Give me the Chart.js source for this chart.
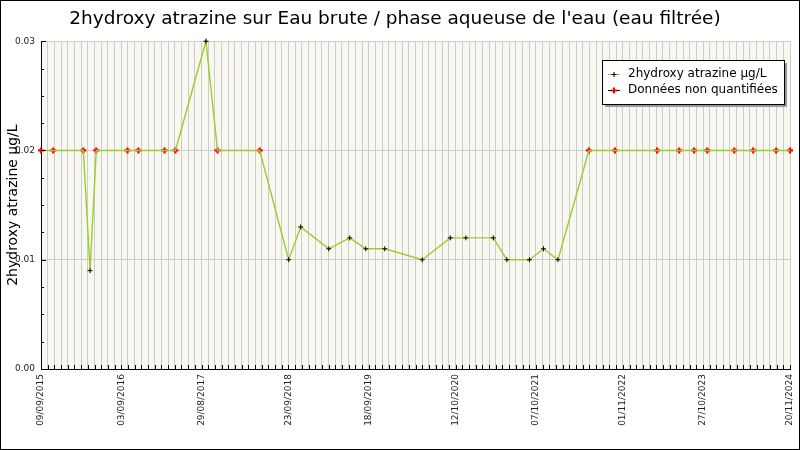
<!DOCTYPE html>
<html lang="fr">
<head>
<meta charset="utf-8">
<title>2hydroxy atrazine</title>
<script src="https://cdn.jsdelivr.net/npm/chart.js@4/dist/chart.umd.min.js"></script>
<style>
  html, body { margin: 0; padding: 0; background: #fff; }
  #cadre { width: 800px; height: 450px; }
</style>
</head>
<body>
<div id="cadre"><canvas id="graphique" width="800" height="450"></canvas></div>
<script>
// Dates des prélèvements
const dates = [
  "2015-09-09", "2015-11-03", "2016-03-17", "2016-04-16", "2016-05-14",
  "2016-10-01", "2016-11-19", "2017-03-16", "2017-05-04", "2017-09-18",
  "2017-11-09", "2018-05-17", "2018-09-24", "2018-11-17", "2019-03-23",
  "2019-06-25", "2019-09-05", "2019-11-29", "2020-05-15", "2020-09-18",
  "2020-11-27", "2021-03-30", "2021-05-30", "2021-09-08", "2021-11-10",
  "2022-01-14", "2022-06-02", "2022-09-27", "2023-04-04", "2023-07-12",
  "2023-09-17", "2023-11-15", "2024-03-15", "2024-06-08", "2024-09-19",
  "2024-11-20"
];
const valeurs = [
  0.02, 0.02, 0.02, 0.009, 0.02,
  0.02, 0.02, 0.02, 0.02, 0.03,
  0.02, 0.02, 0.01, 0.013, 0.011,
  0.012, 0.011, 0.011, 0.01, 0.012,
  0.012, 0.012, 0.01, 0.01, 0.011,
  0.01, 0.02, 0.02, 0.02, 0.02,
  0.02, 0.02, 0.02, 0.02, 0.02,
  0.02
];
// 1 = donnée non quantifiée (croix rouge)
const nonQuantifie = [
  1, 1, 1, 0, 1,
  1, 1, 1, 1, 0,
  1, 1, 0, 0, 0,
  0, 0, 0, 0, 0,
  0, 0, 0, 0, 0,
  0, 1, 1, 1, 1,
  1, 1, 1, 1, 1,
  1
];
const etiquettesX = [
  "09/09/2015", "03/09/2016", "29/08/2017", "23/09/2018", "18/09/2019",
  "12/10/2020", "07/10/2021", "01/11/2022", "27/10/2023", "20/11/2024"
];
const etiquettesY = ["0.00", "0.01", "0.02", "0.03"];

const nomSerie = "2hydroxy atrazine µg/L";
const nomNonQuantifie = "Données non quantifiées";

const JOUR = 86400000;
const origine = Date.UTC(2015, 8, 9);

function jourIso(s) {
  const [a, m, j] = s.split("-").map(Number);
  return Math.round((Date.UTC(a, m - 1, j) - origine) / JOUR);
}
function jourFr(s) {
  const [j, m, a] = s.split("/").map(Number);
  return Math.round((Date.UTC(a, m - 1, j) - origine) / JOUR);
}

const points = dates.map((d, i) => ({ x: jourIso(d), y: valeurs[i] }));
const pointsNQ = points.filter((p, i) => nonQuantifie[i]);
const joursEtiquettes = etiquettesX.map(jourFr);

Chart.defaults.font.family = "'DejaVu Sans', Verdana, sans-serif";
Chart.defaults.color = "#222";

const fondEtCadre = {
  id: "fondEtCadre",
  beforeDraw(chart) {
    const { ctx, chartArea: a } = chart;
    ctx.save();
    ctx.fillStyle = "#fff";
    ctx.fillRect(0, 0, chart.width, chart.height);
    ctx.fillStyle = "#f8f8f0";
    ctx.fillRect(a.left, a.top, a.right - a.left, a.bottom - a.top);
    ctx.restore();
  },
  afterDraw(chart) {
    const { ctx, chartArea: a } = chart;
    const sx = chart.scales.x;
    const sy = chart.scales.y;
    ctx.save();
    // petites graduations vers l'intérieur
    ctx.strokeStyle = "#000";
    ctx.lineWidth = 1;
    ctx.beginPath();
    sx.ticks.forEach((t) => {
      const px = Math.round(sx.getPixelForValue(t.value)) + 0.5;
      ctx.moveTo(px, a.bottom);
      ctx.lineTo(px, a.bottom - 4);
    });
    sy.ticks.forEach((t) => {
      const py = Math.round(sy.getPixelForValue(t.value)) + 0.5;
      const majeur = t.label !== "";
      ctx.moveTo(a.left, py);
      ctx.lineTo(a.left + (majeur ? 5 : 3), py);
    });
    ctx.stroke();

    // cadre de l'image
    ctx.strokeStyle = "#000";
    ctx.strokeRect(0.5, 0.5, chart.width - 1, chart.height - 1);
    ctx.restore();
  },
};

const legendeBoite = {
  id: "legendeBoite",
  afterDraw(chart) {
    const { ctx } = chart;
    const x = 602, y = 60, w = 182, h = 44;
    ctx.save();
    ctx.fillStyle = "#999";
    ctx.fillRect(x + 3, y + 3, w, h);
    ctx.fillStyle = "#fff";
    ctx.fillRect(x, y, w, h);
    ctx.strokeStyle = "#000";
    ctx.lineWidth = 1;
    ctx.strokeRect(x + 0.5, y + 0.5, w, h);

    ctx.font = "12px 'DejaVu Sans', sans-serif";
    ctx.fillStyle = "#000";
    ctx.textBaseline = "middle";

    // série mesurée
    ctx.strokeStyle = "#9acd32";
    ctx.beginPath();
    ctx.moveTo(608, 74.5);
    ctx.lineTo(620, 74.5);
    ctx.stroke();
    ctx.strokeStyle = "#000";
    ctx.beginPath();
    ctx.moveTo(611.5, 74.5); ctx.lineTo(616.5, 74.5);
    ctx.moveTo(614, 72); ctx.lineTo(614, 77);
    ctx.stroke();
    ctx.fillText(nomSerie, 628, 74);

    // non quantifiées
    ctx.strokeStyle = "#000";
    ctx.beginPath();
    ctx.moveTo(608, 90.5);
    ctx.lineTo(620, 90.5);
    ctx.stroke();
    ctx.strokeStyle = "#f00";
    ctx.lineWidth = 2;
    ctx.beginPath();
    ctx.moveTo(611, 90.5); ctx.lineTo(617, 90.5);
    ctx.moveTo(614, 87.5); ctx.lineTo(614, 93.5);
    ctx.stroke();
    ctx.fillText(nomNonQuantifie, 628, 90);
    ctx.restore();
  },
};

new Chart(document.getElementById("graphique"), {
  type: "line",
  data: {
    datasets: [
      {
        label: nomSerie,
        data: points,
        borderColor: "#9acd32",
        borderWidth: 1.4,
        tension: 0,
        pointStyle: "cross",
        pointRadius: points.map((p, i) => (nonQuantifie[i] ? 0 : 2.5)),
        pointBorderColor: "#000",
        pointBorderWidth: 1,
        clip: false,
      },
      {
        label: nomNonQuantifie,
        data: pointsNQ,
        showLine: false,
        pointStyle: "cross",
        pointRadius: 3,
        pointBorderColor: "#f00",
        pointBackgroundColor: "#f00",
        pointBorderWidth: 2.2,
        clip: false,
      },
    ],
  },
  options: {
    responsive: false,
    animation: false,
    layout: { padding: { left: 0, right: 10, top: 0, bottom: 0 } },
    plugins: {
      legend: { display: false },
      tooltip: { enabled: false },
      title: {
        display: true,
        text: "2hydroxy atrazine sur Eau brute / phase aqueuse de l'eau (eau filtrée)",
        color: "#000",
        font: { size: 18.5, weight: "normal" },
        padding: { top: 8, bottom: 11 },
      },
    },
    scales: {
      x: {
        type: "linear",
        min: 0,
        max: jourFr(etiquettesX[etiquettesX.length - 1]),
        afterFit(scale) {
          scale.height = 81;
          scale.paddingLeft = 0;
          scale.paddingRight = 0;
        },
        grid: { color: "#cccccc", lineWidth: 1, drawTicks: false },
        border: { display: true, color: "#000", width: 1 },
        ticks: {
          stepSize: 30,
          autoSkip: false,
          minRotation: 90,
          maxRotation: 90,
          padding: 5,
          font: { size: 9 },
          callback(v) {
            const k = joursEtiquettes.findIndex((j) => Math.abs(j - v) < 1);
            return k >= 0 ? etiquettesX[k] : "";
          },
        },
      },
      y: {
        min: 0,
        max: 0.03,
        afterFit(scale) { scale.width = 41; },
        grid: {
          drawTicks: false,
          color(c) {
            const v = c.tick ? c.tick.value : 0;
            return Math.abs(v * 100 - Math.round(v * 100)) < 1e-6 ? "#cccccc" : "rgba(0,0,0,0)";
          },
        },
        border: { display: true, color: "#000", width: 1 },
        title: {
          display: true,
          text: nomSerie,
          color: "#000",
          font: { size: 14 },
          padding: { top: 5, bottom: 0 },
        },
        ticks: {
          stepSize: 0.0025,
          padding: 6,
          font: { size: 9 },
          callback(v) {
            const k = Math.round(v * 100);
            return Math.abs(v * 100 - k) < 1e-6 ? etiquettesY[k] : "";
          },
        },
      },
    },
  },
  plugins: [fondEtCadre, legendeBoite],
});
</script>
</body>
</html>
